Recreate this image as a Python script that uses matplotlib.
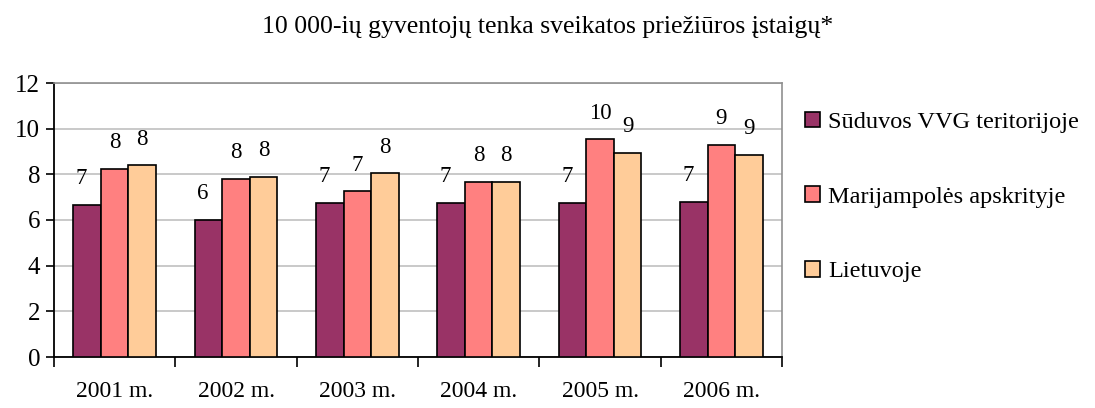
import matplotlib
matplotlib.use("Agg")
import matplotlib.pyplot as plt
import numpy as np

# duomenys
years = ["2001 m.", "2002 m.", "2003 m.", "2004 m.", "2005 m.", "2006 m."]
series_names = ["Sūduvos VVG teritorijoje", "Marijampolės apskrityje", "Lietuvoje"]
suduvos = [6.64, 6.02, 6.73, 6.73, 6.73, 6.81]
marijampole = [8.22, 7.78, 7.25, 7.68, 9.53, 9.27]
lietuva = [8.39, 7.87, 8.04, 7.68, 8.92, 8.83]
colors = ["#993366", "#FF8080", "#FFCC99"]

plt.rcParams['font.family'] = ['Liberation Serif', 'DejaVu Serif']

fig = plt.figure(figsize=(10.95, 4.08), dpi=100)
ax = fig.add_axes([54 / 1095, 1 - 357 / 408, 728 / 1095, 274 / 408])

x = np.arange(len(years))
w = 0.228
handles = []
for i, (vals, name) in enumerate(zip([suduvos, marijampole, lietuva], series_names)):
    bars = ax.bar(x + (i - 1) * w, vals, width=w, color=colors[i],
                  edgecolor="black", linewidth=1.2, label=name, zorder=3)
    handles.append(bars)
    for b, v in zip(bars, vals):
        ax.annotate(f"{round(v):d}", (b.get_x() + b.get_width() / 2, v),
                    xytext=(-4 if i == 0 else 0, 19), textcoords="offset points",
                    ha="center", va="center", fontsize=16.5)

ax.set_xlim(-0.5, len(years) - 0.5)
ax.set_ylim(0, 12)
ax.set_yticks(range(0, 13, 2))
ax.set_yticklabels([str(v) for v in range(0, 13, 2)], fontsize=18)
ax.set_xticks(np.arange(-0.5, len(years), 1.0))
ax.set_xticklabels([])
ax.set_xticks(x, minor=True)
ax.set_xticklabels(years, minor=True, fontsize=17)
ax.tick_params(axis="x", which="minor", length=0, pad=17)
ax.tick_params(axis="x", which="major", length=7, direction="out", width=1.2)
ax.tick_params(axis="y", length=6, direction="out", width=1.2, pad=4)
ax.yaxis.grid(True, color="#C0C0C0", linewidth=1.2, zorder=0)
ax.set_axisbelow(True)
for s in ["top", "right"]:
    ax.spines[s].set_color("#909090")
    ax.spines[s].set_linewidth(1.2)
for s in ["left", "bottom"]:
    ax.spines[s].set_linewidth(1.3)

fig.text(0.5, 1 - 27 / 408, "10 000-ių gyventojų tenka sveikatos priežiūros įstaigų*",
         ha="center", va="center", fontsize=18.5)

fig.legend(handles=handles, labels=series_names, loc="center left",
           bbox_to_anchor=(805 / 1095, 1 - 197 / 408), frameon=False,
           borderpad=0, borderaxespad=0,
           fontsize=17.5, handlelength=0.6, handleheight=0.6, handletextpad=0.35,
           labelspacing=2.2)

fig.savefig("out.png", dpi=100)
